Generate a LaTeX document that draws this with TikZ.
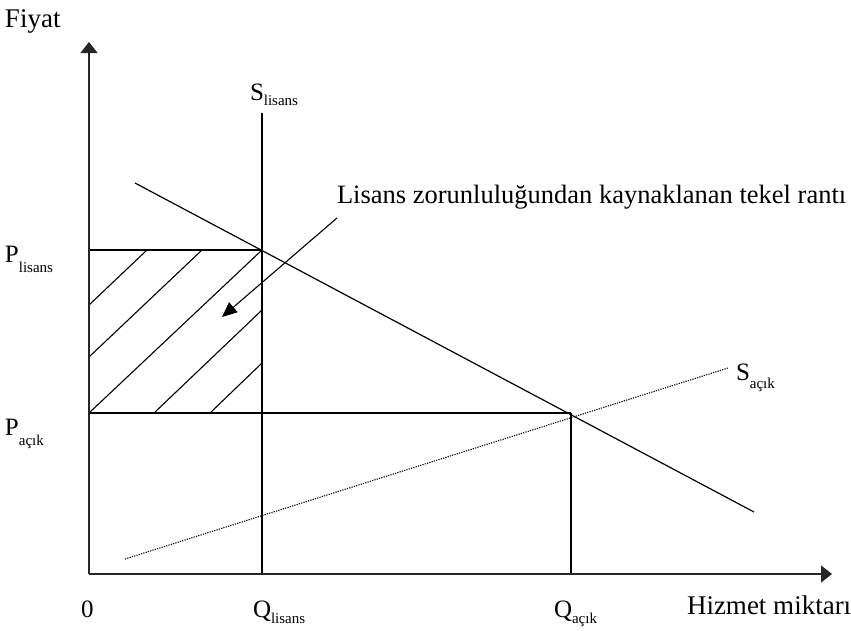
\documentclass[tikz,border=0pt]{standalone}
\usepackage{fontspec}
\setmainfont{Liberation Serif}
\usetikzlibrary{arrows.meta}
\newcommand\bigtx{\fontsize{27}{30}\selectfont}
\newcommand\lettx{\fontsize{25}{28}\selectfont}
\newcommand\subtx[2][8pt]{\raisebox{-#1}{\fontsize{15}{16}\selectfont #2}}
\begin{document}
\begin{tikzpicture}[x=1pt,y=-1pt,
  axis/.style={line width=1.5pt,draw=black!85,-{Triangle[length=11pt,width=17pt]}},
  curve/.style={line width=1.2pt},
  hatch/.style={line width=1.1pt},
  dotline/.style={line width=1.1pt,dash pattern=on 1.2pt off 1.2pt},
  lab/.style={anchor=base west,inner sep=0pt,outer sep=0pt}]
\useasboundingbox (0,0) rectangle (851,630);
% key points
\coordinate (O) at (89,574);
\coordinate (ytop) at (89,42);
\coordinate (xend) at (832,574);
\coordinate (A) at (89,250);
\coordinate (B) at (262,250);
\coordinate (C) at (89,413);
\coordinate (D) at (571,413);
\coordinate (Sl1) at (262,113);
\coordinate (Sl0) at (262,574);
\coordinate (Qa0) at (571,574);
\coordinate (dem1) at (135,183);
\coordinate (dem2) at (754,512);
\coordinate (sa1) at (125,559);
\coordinate (sa2) at (728,368);
\coordinate (ar1) at (337,218);
\coordinate (ar2) at (222,317);
% hatch
\draw[hatch] (89,305) -- (147,250);
\draw[hatch] (89,357) -- (202,250);
\draw[hatch] (C) -- (B);
\draw[hatch] (154,413) -- (262,310);
\draw[hatch] (210,413) -- (262,363);
% lines
\draw[curve] (A) -- (B);
\draw[curve] (C) -- (D);
\draw[curve] (Sl1) -- (Sl0);
\draw[curve] (D) -- (Qa0);
\draw[curve] (dem1) -- (dem2);
\draw[dotline] (sa1) -- (sa2);
\draw[line width=1.1pt,-{Triangle[length=15pt,width=13pt]}] (ar1) -- (ar2);
% axes
\draw[axis] (O) -- (ytop);
\draw[axis] (O) -- (xend);
% labels
\node[lab] (fiyat) at (5,27) {\bigtx Fiyat};
\node[lab] (slis) at (250,100) {\lettx S\subtx[5pt]{lisans}};
\node[lab] (rant) at (337,203) {\fontsize{26.5}{30}\selectfont Lisans zorunluluğundan kaynaklanan tekel rantı};
\node[lab] (plis) at (5,262) {\lettx P\subtx[10pt]{lisans}};
\node[lab] (pacik) at (5,435) {\lettx P\subtx[10pt]{açık}};
\node[lab] (sacik) at (736,380) {\lettx S\subtx[8pt]{açık}};
\node[lab] (zero) at (81,617) {\lettx 0};
\node[lab] (qlis) at (253,617) {\lettx Q\subtx[6pt]{lisans}};
\node[lab] (qacik) at (554,617) {\lettx Q\subtx[6pt]{açık}};
\node[lab] (hiz) at (687,614) {\bigtx Hizmet miktarı};
\end{tikzpicture}
\end{document}
